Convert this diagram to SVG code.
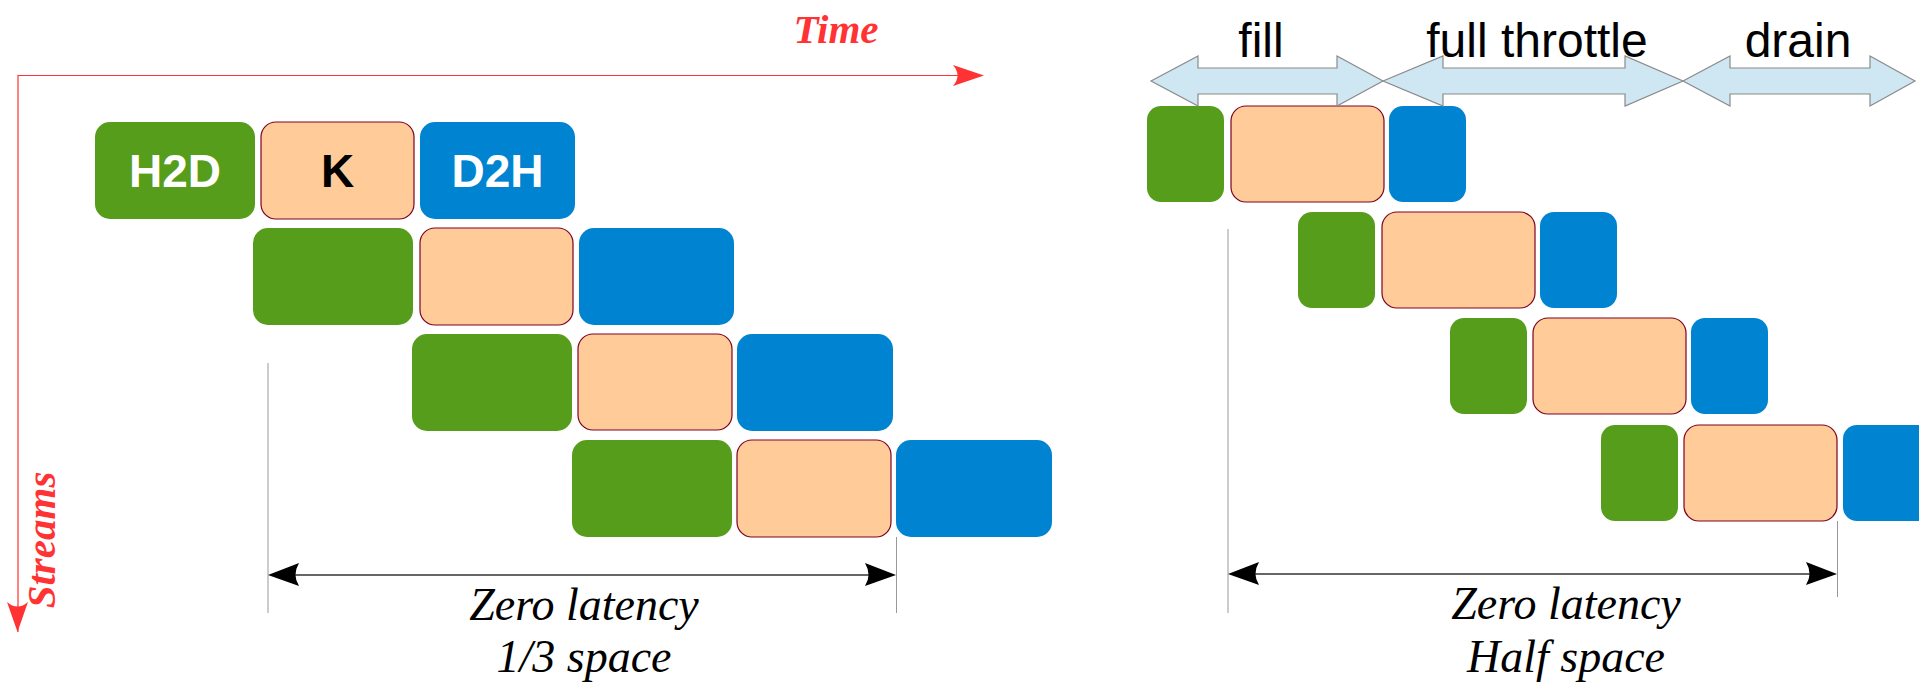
<svg xmlns="http://www.w3.org/2000/svg" width="1919" height="686" viewBox="0 0 1919 686">
<style>
.g{fill:#579d1c}
.k{fill:#ffcc99;stroke:#7e0021;stroke-width:1.2}
.b{fill:#0084d1}
.lbl{font-family:"Liberation Sans",Arial,sans-serif;font-weight:bold;font-size:46px;text-anchor:middle}
.phase{font-family:"Liberation Sans",Arial,sans-serif;font-size:48px;text-anchor:middle;fill:#000}
.it{font-family:"Liberation Serif","Times New Roman",serif;font-style:italic;font-size:46px;text-anchor:middle;fill:#000}
.ax{font-family:"Liberation Serif","Times New Roman",serif;font-style:italic;font-weight:bold;font-size:41px;fill:#ff3333}
.red{stroke:#ff3333;stroke-width:1.2;fill:none}
.gl{stroke:#999;stroke-width:1;fill:none}
.dim{stroke:#333;stroke-width:1.5;fill:none}
.dblarrow{fill:#cfe6f3;stroke:#8a8a8a;stroke-width:1.2}
</style>

<!-- axes -->
<g id="axes">
  <path class="red" d="M18,632 L18,75.5 L960,75.5"/>
  <path d="M984,75.5 L953,65 Q962,75.5 953,86 Z" fill="#ff3333"/>
  <path d="M17.5,632 L7,602 Q17.5,611 28,602 Z" fill="#ff3333"/>
  <text class="ax" x="836" y="43" text-anchor="middle">Time</text>
  <text class="ax" x="0" y="0" text-anchor="middle" transform="translate(55,540) rotate(-90)">Streams</text>
</g>

<!-- left diagram -->
<g id="left-row1">
  <rect class="g" x="95" y="122" width="160" height="97" rx="15"/>
  <text class="lbl" x="175" y="187" fill="#fff">H2D</text>
  <rect class="k" x="261" y="122" width="153" height="97" rx="15"/>
  <text class="lbl" x="337.5" y="187" fill="#000">K</text>
  <rect class="b" x="420" y="122" width="155" height="97" rx="15"/>
  <text class="lbl" x="497.5" y="187" fill="#fff">D2H</text>
</g>
<g id="left-row2">
  <rect class="g" x="253" y="228" width="160" height="97" rx="15"/>
  <rect class="k" x="420" y="228" width="153" height="97" rx="15"/>
  <rect class="b" x="579" y="228" width="155" height="97" rx="15"/>
</g>
<g id="left-row3">
  <rect class="g" x="412" y="334" width="160" height="97" rx="15"/>
  <rect class="k" x="578" y="334" width="154" height="96" rx="15"/>
  <rect class="b" x="737" y="334" width="156" height="97" rx="15"/>
</g>
<g id="left-row4">
  <rect class="g" x="572" y="440" width="160" height="97" rx="15"/>
  <rect class="k" x="737" y="440" width="154" height="97" rx="15"/>
  <rect class="b" x="896" y="440" width="156" height="97" rx="15"/>
</g>

<!-- right diagram -->
<g id="right-row1">
  <rect class="g" x="1147" y="106" width="77" height="96" rx="14"/>
  <rect class="k" x="1231" y="106" width="153" height="96" rx="15"/>
  <rect class="b" x="1389" y="106" width="77" height="96" rx="14"/>
</g>
<g id="right-row2">
  <rect class="g" x="1298" y="212" width="77" height="96" rx="14"/>
  <rect class="k" x="1382" y="212" width="153" height="96" rx="15"/>
  <rect class="b" x="1540" y="212" width="77" height="96" rx="14"/>
</g>
<g id="right-row3">
  <rect class="g" x="1450" y="318" width="77" height="96" rx="14"/>
  <rect class="k" x="1533" y="318" width="153" height="96" rx="15"/>
  <rect class="b" x="1691" y="318" width="77" height="96" rx="14"/>
</g>
<g id="right-row4">
  <rect class="g" x="1601" y="425" width="77" height="96" rx="14"/>
  <rect class="k" x="1684" y="425" width="153" height="96" rx="15"/>
  <rect class="b" x="1843" y="425" width="90" height="96" rx="14"/>
</g>

<!-- phase arrows -->
<g id="phase-fill">
  <polygon class="dblarrow" points="1151,81 1198,56 1198,68 1337,68 1337,56 1383,81 1337,106 1337,94 1198,94 1198,106"/>
  <text class="phase" x="1261" y="57">fill</text>
</g>
<g id="phase-full">
  <polygon class="dblarrow" points="1383,81 1443,56 1443,68 1625,68 1625,56 1683,81 1625,106 1625,94 1443,94 1443,106"/>
  <text class="phase" x="1537" y="57">full throttle</text>
</g>
<g id="phase-drain">
  <polygon class="dblarrow" points="1683,81 1730,56 1730,68 1870,68 1870,56 1915,81 1870,106 1870,94 1730,94 1730,106"/>
  <text class="phase" x="1798" y="57">drain</text>
</g>

<!-- connectors / dimension lines -->
<g id="connectors">
  <line class="gl" x1="268" y1="363" x2="268" y2="613"/>
  <line class="gl" x1="896.5" y1="537" x2="896.5" y2="613"/>
  <line class="dim" x1="290" y1="575" x2="875" y2="575"/>
  <path d="M268,575 L299,563 Q292,575 299,586 Z" fill="#000"/>
  <path d="M896,575 L865,563 Q872,575 865,586 Z" fill="#000"/>

  <line class="gl" x1="1228" y1="229" x2="1228" y2="613"/>
  <line class="gl" x1="1837.5" y1="521" x2="1837.5" y2="597"/>
  <line class="dim" x1="1250" y1="574" x2="1816" y2="574"/>
  <path d="M1228,574 L1259,562 Q1252,574 1259,585 Z" fill="#000"/>
  <path d="M1837,574 L1806,562 Q1813,574 1806,585 Z" fill="#000"/>
</g>

<g id="captions">
  <text class="it" x="584" y="620">Zero latency</text>
  <text class="it" x="584" y="672">1/3 space</text>
  <text class="it" x="1566" y="619">Zero latency</text>
  <text class="it" x="1566" y="672">Half space</text>
</g>
</svg>
